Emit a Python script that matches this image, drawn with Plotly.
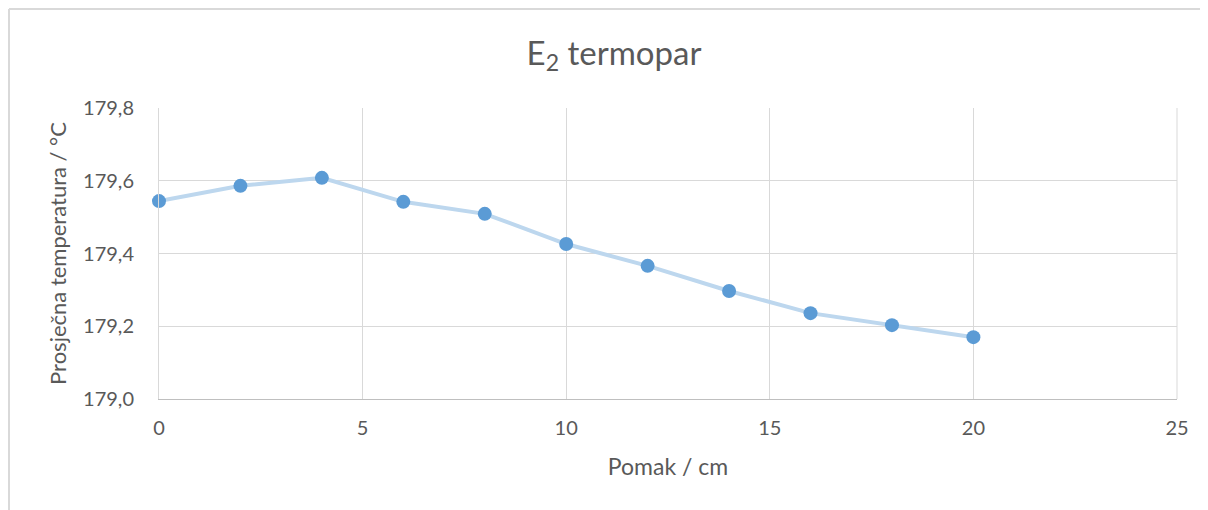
import plotly.graph_objects as go

pomak = [0, 2, 4, 6, 8, 10, 12, 14, 16, 18, 20]
temperatura = [179.544, 179.586, 179.608, 179.542, 179.509, 179.426, 179.366, 179.297, 179.236, 179.203, 179.170]
x_ticks = [0, 5, 10, 15, 20, 25]
y_ticks = [179.0, 179.2, 179.4, 179.6, 179.8]
y_tick_labels = ["179,0", "179,2", "179,4", "179,6", "179,8"]

FONT = "Lato, Open Sans, sans-serif"
TXT = "#595959"

fig = go.Figure()
fig.add_trace(go.Scatter(
    x=pomak, y=temperatura, mode="lines+markers",
    line=dict(color="#bdd7ee", width=4),
    marker=dict(color="#5b9bd5", size=14),
    cliponaxis=False, showlegend=False,
))

# page has an 8px body margin, so the figure is drawn 8px in from the top-left
OFF = 8
W, H = 1208 - OFF, 510 - OFF
L, R, T, B = 159 - OFF, 31, 108 - OFF, 111
pw, ph = W - L - R, H - T - B

fig.update_layout(
    width=W, height=H,
    margin=dict(l=L, r=R, t=T, b=B),
    paper_bgcolor="white", plot_bgcolor="white",
    font=dict(family=FONT, color=TXT),
    title=dict(text="E<sub>2</sub> termopar", x=(614 - OFF) / W, xref="container", xanchor="center",
               y=1 - (53 - OFF) / H, yref="container", yanchor="middle",
               font=dict(size=33, color=TXT, family=FONT)),
    xaxis=dict(range=[0, 25], tickvals=x_ticks, showgrid=True, gridcolor="#d9d9d9", gridwidth=1,
               zeroline=False, showline=True, linecolor="#bfbfbf", linewidth=1, mirror=False,
               ticks="", tickfont=dict(size=20, color=TXT), ticklabelstandoff=11,
               title=dict(text="Pomak / cm", font=dict(size=23, color=TXT), standoff=20)),
    yaxis=dict(range=[179.0, 179.8], tickvals=y_ticks, ticktext=y_tick_labels, showgrid=True,
               gridcolor="#d9d9d9", gridwidth=1, zeroline=False, showline=True, linecolor="#d9d9d9",
               ticks="", tickfont=dict(size=20, color=TXT), ticklabelstandoff=20,
               title=dict(text="Prosječna temperatura / °C", font=dict(size=22, color=TXT), standoff=10)),
)

# outer chart border
bx0 = (9 - 159) / pw
by1 = (399 - 9) / ph
fig.add_shape(type="line", xref="paper", yref="paper", x0=bx0, x1=bx0, y0=-1, y1=by1,
              line=dict(color="#d9d9d9", width=2))
fig.add_shape(type="line", xref="paper", yref="paper", x0=bx0, x1=1.2, y0=by1, y1=by1,
              line=dict(color="#d9d9d9", width=2))
# right plot border line
fig.add_shape(type="line", xref="paper", yref="paper", x0=1, x1=1, y0=0, y1=1,
              line=dict(color="#d9d9d9", width=1))

fig.write_html("out.html")
